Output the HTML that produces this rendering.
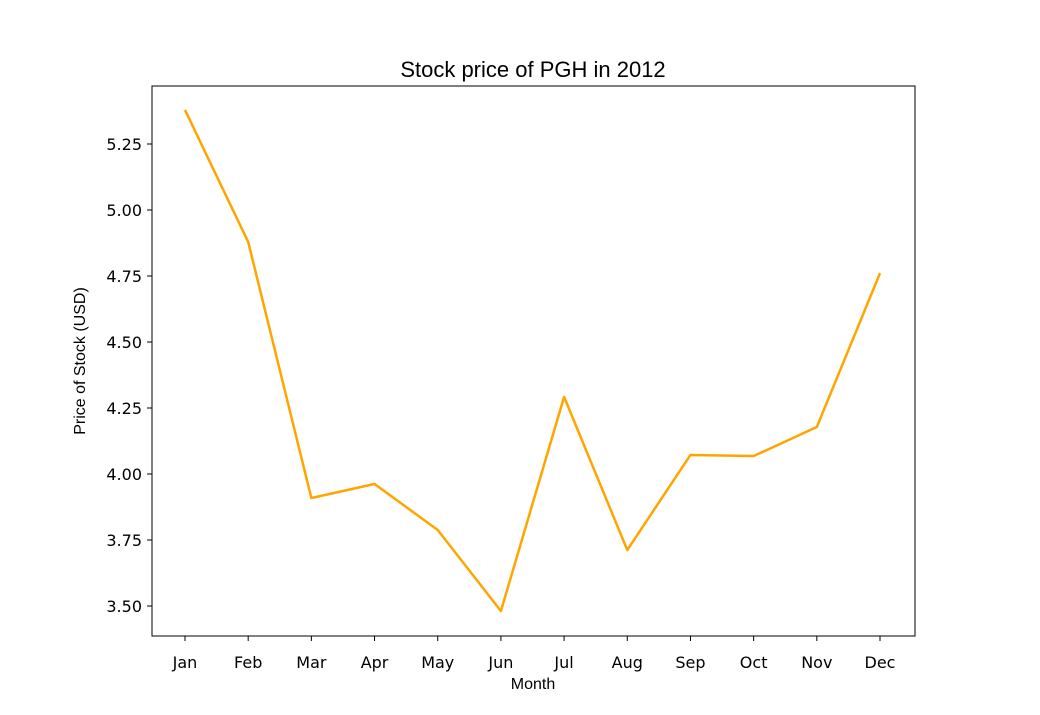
<!DOCTYPE html>
<html><head><meta charset="utf-8"><style>
html,body{margin:0;padding:0;background:#fff;width:1040px;height:715px;overflow:hidden}
</style></head><body>
<svg id="chart" width="1040" height="715" xmlns="http://www.w3.org/2000/svg">
<rect x="152" y="86" width="763" height="550" fill="#fff" stroke="#000" stroke-width="1"/>
<text x="533" y="77" text-anchor="middle" font-family="Liberation Sans, sans-serif" font-size="22">Stock price of PGH in 2012</text>
<text x="533" y="689" text-anchor="middle" font-family="Liberation Sans, sans-serif" font-size="16">Month</text>
<text transform="translate(85,361) rotate(-90)" text-anchor="middle" font-family="Liberation Sans, sans-serif" font-size="16">Price of Stock (USD)</text>
<g id="xt"></g><g id="yt"></g><g id="series"></g>
</svg>
<script>
const months = ["Jan","Feb","Mar","Apr","May","Jun","Jul","Aug","Sep","Oct","Nov","Dec"];
const prices = [5.379,4.879,3.909,3.962,3.788,3.481,4.292,3.712,4.072,4.068,4.178,4.761];
const yTicks = [3.50,3.75,4.00,4.25,4.50,4.75,5.00,5.25];
const NS="http://www.w3.org/2000/svg";
function xs(i){return 185+i*(880-185)/11;}
function ys(v){return 606-(v-3.5)*(606-144)/1.75;}
const xt=document.getElementById('xt'), yt=document.getElementById('yt'), se=document.getElementById('series');
months.forEach((m,i)=>{
  const l=document.createElementNS(NS,'line');
  
  
  l.setAttribute('x1',xs(i));l.setAttribute('x2',xs(i));l.setAttribute('y1',636);l.setAttribute('y2',641);l.setAttribute('stroke','#000');
  xt.appendChild(l);
  const t=document.createElementNS(NS,'text');
  
  
  t.setAttribute('x',xs(i));t.setAttribute('y',668);t.setAttribute('text-anchor','middle');
  t.setAttribute('font-family','DejaVu Sans, sans-serif');t.setAttribute('font-size','16');
  t.textContent=m;xt.appendChild(t);
});
yTicks.forEach(v=>{
  const l=document.createElementNS(NS,'line');
  
  
  l.setAttribute('x1',147);l.setAttribute('x2',152);l.setAttribute('y1',ys(v));l.setAttribute('y2',ys(v));l.setAttribute('stroke','#000');
  yt.appendChild(l);
  const t=document.createElementNS(NS,'text');
  
  
  t.setAttribute('x',142);t.setAttribute('y',ys(v)+6);t.setAttribute('text-anchor','end');
  t.setAttribute('font-family','DejaVu Sans, sans-serif');t.setAttribute('font-size','16');
  t.textContent=v.toFixed(2);yt.appendChild(t);
});
const p=document.createElementNS(NS,'polyline');


p.setAttribute('points',prices.map((v,i)=>xs(i)+','+ys(v)).join(' '));
p.setAttribute('fill','none');p.setAttribute('stroke','#ffa500');p.setAttribute('stroke-width','2.5');p.setAttribute('stroke-linejoin','round');
se.appendChild(p);
</script>
</body></html>
